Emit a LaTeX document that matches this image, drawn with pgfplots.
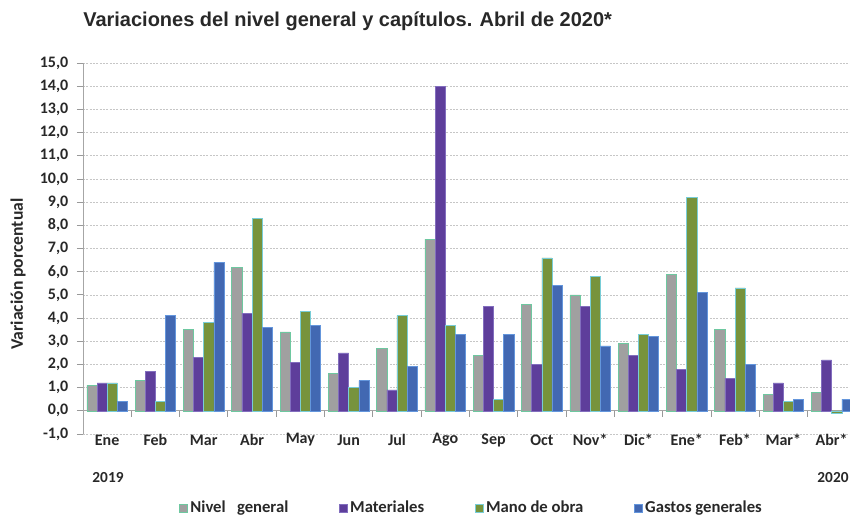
\documentclass[border=0pt]{standalone}
\usepackage{fontspec}
\setmainfont{Carlito}
\newfontfamily\titlefont{Liberation Sans}
\usepackage{pgfplots}
\pgfplotsset{compat=1.18}

\definecolor{cGris}{RGB}{160,160,160}
\definecolor{cGrisB}{RGB}{110,200,160}
\definecolor{cMorado}{RGB}{94,62,155}
\definecolor{cMoradoB}{RGB}{130,110,190}
\definecolor{cVerde}{RGB}{119,147,60}
\definecolor{cVerdeB}{RGB}{120,205,215}
\definecolor{cAzul}{RGB}{66,104,178}
\definecolor{cAzulB}{RGB}{100,150,220}
\definecolor{cTexto}{RGB}{40,40,40}

\pgfplotstableread{
x  nivel mat  mano  gastos
0  1.1   1.2  1.2   0.4
1  1.3   1.7  0.4   4.1
2  3.5   2.3  3.8   6.4
3  6.2   4.2  8.3   3.6
4  3.4   2.1  4.3   3.7
5  1.6   2.5  1.0   1.3
6  2.7   0.9  4.1   1.9
7  7.4   14.0 3.7   3.3
8  2.4   4.5  0.5   3.3
9  4.6   2.0  6.6   5.4
10 5.0   4.5  5.8   2.8
11 2.9   2.4  3.3   3.2
12 5.9   1.8  9.2   5.1
13 3.5   1.4  5.3   2.0
14 0.7   1.2  0.4   0.5
15 0.8   2.2  -0.1  0.5
}\datos

\begin{document}
\begin{tikzpicture}
\begin{axis}[
    scale only axis,
    width=575.25pt, height=278.25pt,
    xmin=-0.5, xmax=15.38,
    ymin=-1, ymax=15,
    axis x line=middle, axis y line=left,
    axis line style={-, gray!70, line width=0.6pt},
    hide obscured x ticks=false, hide obscured y ticks=false,
    clip mode=individual,
    ybar=0pt, bar width=0.21,
    xtick={0,...,15},
    xticklabels={Ene,Feb,Mar,Abr,May,Jun,Jul,Ago,Sep,Oct,Nov*,Dic*,Ene*,Feb*,Mar*,Abr*},
    major x tick style={draw=none},
    xticklabel style={anchor=center, yshift=-17.4pt, font=\fontsize{12}{13}\selectfont\bfseries, text=cTexto},
    ytick={-1,0,...,15},
    ytick align=outside, major tick length=4.5pt,
    y tick style={gray!80, line width=0.6pt},
    yticklabel style={xshift=-3pt, font=\fontsize{12}{13}\selectfont\bfseries, text=cTexto},
    /pgf/number format/.cd, fixed, fixed zerofill, precision=1, use comma, assume math mode=true,
    /pgfplots/.cd,
    ymajorgrids=true,
    grid style={dash pattern=on 1.5pt off 1pt, gray!45, line width=0.5pt},
    legend columns=4,
    legend style={draw=none, fill=none, at={(0.507,-0.1995)}, anchor=center,
        font=\fontsize{12.5}{13}\selectfont\bfseries, text=cTexto,
        /tikz/every even column/.append style={column sep=36pt}},
    legend image code/.code={\draw[#1, line width=0.4pt] (0pt,-3pt) rectangle (6pt,3pt);},
]
\addplot[fill=cGris, draw=cGrisB, line width=0.4pt] table[x=x, y=nivel] {\datos};
\addplot[fill=cMorado, draw=cMoradoB, line width=0.4pt] table[x=x, y=mat] {\datos};
\addplot[fill=cVerde, draw=cVerdeB, line width=0.4pt] table[x=x, y=mano] {\datos};
\addplot[fill=cAzul, draw=cAzulB, line width=0.4pt] table[x=x, y=gastos] {\datos};
\legend{Nivel\ \ \ general, Materiales, Mano de obra, Gastos generales}
% marcas del eje x entre meses
\pgfplotsinvokeforeach{0.5,1.5,...,14.5}{
  \draw[gray!80, line width=0.6pt] (axis cs:#1,0) -- ++(0pt,-4.5pt);
}
\end{axis}
\node[anchor=west, text=cTexto, inner sep=0pt] at (0pt,309.75pt)
    {\titlefont\fontsize{15}{17}\selectfont\bfseries Variaciones del nivel general y capítulos. Abril de 2020*};
\node[rotate=90, text=cTexto, inner sep=0pt] at (-48.75pt,120pt)
    {\fontsize{13.2}{15}\selectfont\bfseries Variación porcentual};
\node[text=cTexto, inner sep=0pt] at (18.75pt,-33pt) {\fontsize{11.5}{12}\selectfont\bfseries 2019};
\node[text=cTexto, inner sep=0pt] at (562.5pt,-33pt) {\fontsize{11.5}{12}\selectfont\bfseries 2020};
\pgfresetboundingbox
\useasboundingbox (-62.25pt,-62.25pt) rectangle (575.25pt,325.5pt);
\end{tikzpicture}
\end{document}
